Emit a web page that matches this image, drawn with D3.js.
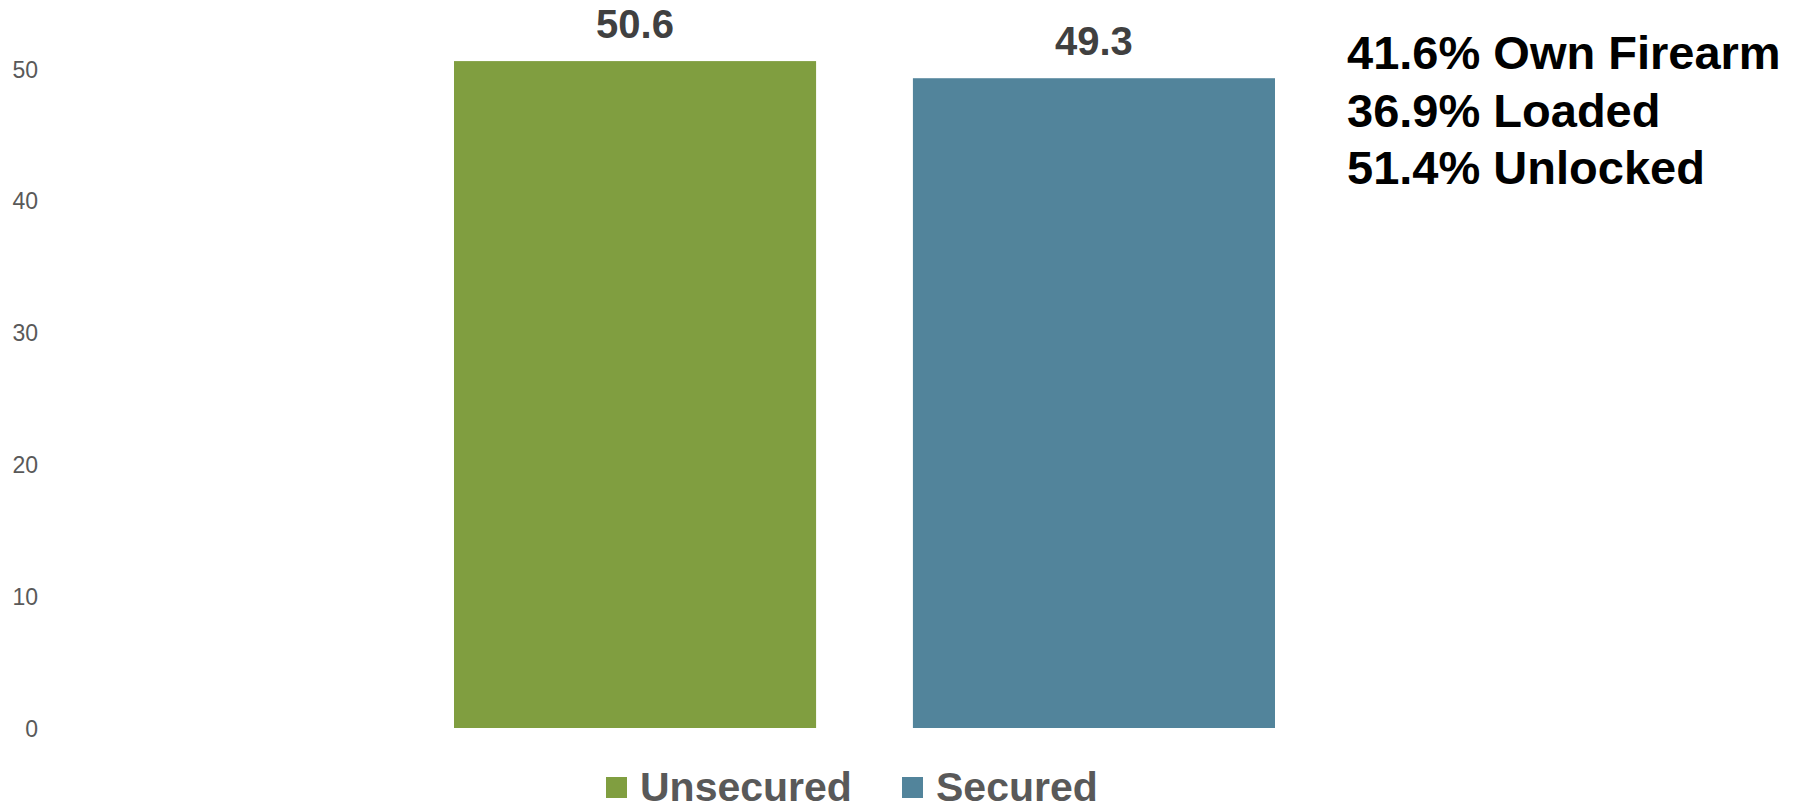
<!DOCTYPE html>
<html><head><meta charset="utf-8">
<script src="https://cdn.jsdelivr.net/npm/d3@7"></script>
<style>body{margin:0;background:#fff;}svg{display:block;}</style>
</head><body>
<svg id="chart" width="1800" height="805"></svg>
<script>
const categories = ["Unsecured", "Secured"];
const values = [50.6, 49.3];
const colors = ["#809E40", "#52849B"];
const yTicks = [0, 10, 20, 30, 40, 50];
const notes = ["41.6% Own Firearm", "36.9% Loaded", "51.4% Unlocked"];

const svg = d3.select("#chart");
const font = "'Liberation Sans', Arial, sans-serif";

const x = d3.scaleBand().domain(categories).range([454, 1275]).paddingInner(0.211).paddingOuter(0);
const y = d3.scaleLinear().domain([0, 50]).range([728, 69]);

// y axis labels
const yAxis = d3.axisLeft(y).tickValues(yTicks).tickSize(0).tickPadding(0).tickFormat(d3.format("d"));
const ga = svg.append("g").attr("transform", "translate(38,0)").call(yAxis);
ga.select(".domain").remove();
ga.selectAll("text").attr("font-family", font).attr("font-size", 23).attr("fill", "#595959").attr("dy", "0.35em");

// bars
svg.selectAll("rect.bar").data(categories).join("rect")
  .attr("class", "bar")
  .attr("x", d => x(d))
  .attr("width", x.bandwidth())
  .attr("y", (d, i) => y(values[i]))
  .attr("height", (d, i) => y(0) - y(values[i]))
  .attr("fill", (d, i) => colors[i]);

// value labels
svg.selectAll("text.val").data(categories).join("text")
  .attr("class", "val")
  .attr("x", d => x(d) + x.bandwidth() / 2)
  .attr("y", (d, i) => y(values[i]) - 23)
  .attr("text-anchor", "middle")
  .attr("font-family", font).attr("font-weight", "bold").attr("font-size", 40)
  .attr("fill", "#404040")
  .text((d, i) => d3.format(".1f")(values[i]));

// annotation
svg.selectAll("text.note").data(notes).join("text")
  .attr("class", "note")
  .attr("x", 1347)
  .attr("y", (d, i) => 69 + i * 57.5)
  .attr("font-family", font).attr("font-weight", "bold").attr("font-size", 47)
  .attr("fill", "#000")
  .text(d => d);

// legend
const legendX = [606, 902];
const lg = svg.selectAll("g.leg").data(categories).join("g")
  .attr("class", "leg")
  .attr("transform", (d, i) => `translate(${legendX[i]},0)`);
lg.append("rect").attr("x", 0).attr("y", 777).attr("width", 21).attr("height", 21)
  .attr("fill", (d, i) => colors[i]);
lg.append("text").attr("x", 34).attr("y", 801)
  .attr("font-family", font).attr("font-weight", "bold").attr("font-size", 41)
  .attr("fill", "#595959").text(d => d);
</script>
</body></html>
